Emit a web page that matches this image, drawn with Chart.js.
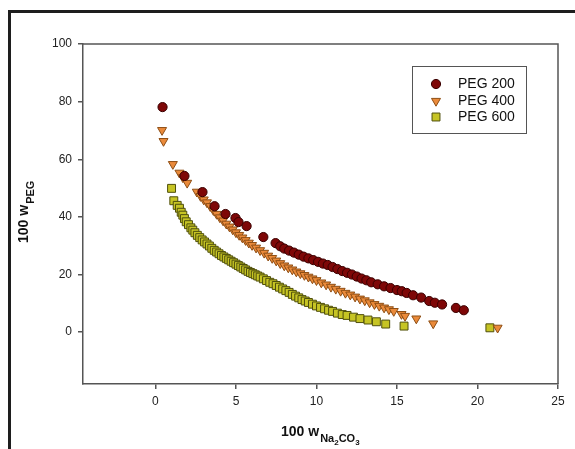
<!DOCTYPE html>
<html>
<head>
<meta charset="utf-8">
<script src="https://cdn.jsdelivr.net/npm/chart.js@4.4.1/dist/chart.umd.min.js"></script>
<style>
  html, body { margin: 0; padding: 0; background: #fff; }
  #wrap { width: 575px; height: 449px; }
</style>
</head>
<body>
<div id="wrap"><canvas id="scatterChart" width="575" height="449"></canvas></div>
<script>
// series labels
const seriesNames = ['PEG 200', 'PEG 400', 'PEG 600'];

// PEG 200 : 100 w(Na2CO3), 100 w(PEG)
const x200 = [0.44, 1.8, 2.92, 3.67, 4.35, 4.97, 5.16, 5.66, 6.7, 7.46,
  7.75, 8.0, 8.3, 8.6, 8.9, 9.2, 9.5, 9.8, 10.1, 10.4,
  10.7, 11.0, 11.3, 11.6, 11.9, 12.2, 12.5, 12.8, 13.1, 13.4,
  13.8, 14.2, 14.6, 15.0, 15.3, 15.6, 16.0, 16.5, 17.0, 17.35,
  17.8, 18.66, 19.15];
const y200 = [78.1, 54.2, 48.6, 43.7, 41.0, 39.6, 38.2, 36.8, 33.0, 30.9,
  29.8, 29.0, 28.3, 27.6, 26.9, 26.2, 25.6, 25.0, 24.4, 23.8,
  23.3, 22.6, 21.9, 21.2, 20.6, 20.0, 19.3, 18.6, 18.0, 17.3,
  16.6, 15.9, 15.3, 14.6, 14.2, 13.6, 12.8, 12.0, 10.8, 10.2,
  9.6, 8.4, 7.6];

// PEG 400
const x400 = [0.41, 0.5, 1.08, 1.49, 1.7, 1.97, 2.57,
  2.8, 3.0, 3.2, 3.4, 3.6, 3.8, 4.0, 4.2, 4.4, 4.6,
  4.8, 5.0, 5.2, 5.4, 5.6, 5.8, 6.0, 6.25, 6.5, 6.75,
  7.0, 7.25, 7.5, 7.75, 8.0, 8.25, 8.5, 8.75, 9.0, 9.25,
  9.5, 9.75, 10.0, 10.3, 10.6, 10.9, 11.2, 11.5, 11.8, 12.1,
  12.4, 12.7, 13.0, 13.3, 13.6, 13.9, 14.2, 14.5, 14.8,
  15.28, 15.5, 16.2, 17.25, 21.25];
const y400 = [70.1, 66.3, 58.3, 55.3, 53.7, 51.8, 48.7,
  47.2, 46.0, 45.0, 43.7, 42.3, 41.0, 39.8, 38.7, 37.6, 36.6,
  35.6, 34.6, 33.7, 32.8, 31.9, 31.0, 30.2, 29.3, 28.4, 27.5,
  26.5, 25.7, 24.8, 23.9, 23.1, 22.4, 21.7, 21.0, 20.4, 19.8,
  19.2, 18.6, 18.0, 17.2, 16.5, 15.7, 15.0, 14.3, 13.6, 13.0,
  12.3, 11.6, 11.0, 10.3, 9.7, 9.1, 8.5, 7.9, 7.3,
  6.25, 5.6, 4.7, 3.0, 1.5];

// PEG 600
const x600 = [1.0, 1.14, 1.35, 1.49, 1.6, 1.7, 1.8, 1.91, 2.05, 2.2, 2.32,
  2.45, 2.6, 2.75, 2.9, 3.05, 3.2, 3.35, 3.5, 3.65, 3.8,
  3.95, 4.1, 4.25, 4.4, 4.55, 4.7, 4.85, 5.0, 5.15, 5.3,
  5.45, 5.6, 5.75, 5.9, 6.05, 6.2, 6.35, 6.5, 6.7, 6.9,
  7.1, 7.3, 7.5, 7.7, 7.9, 8.1, 8.3, 8.5, 8.7, 8.9,
  9.1, 9.3, 9.5, 9.75, 10.0, 10.25, 10.5, 10.75, 11.0, 11.3,
  11.6, 11.9, 12.3, 12.7, 13.2, 13.72, 14.3, 15.44, 20.77];
const y600 = [49.9, 45.6, 44.0, 43.0, 41.6, 40.6, 39.4, 38.3, 37.3, 36.2, 35.4,
  34.5, 33.6, 32.8, 32.0, 31.3, 30.6, 29.9, 29.1, 28.4, 27.8,
  27.2, 26.6, 26.1, 25.6, 25.1, 24.6, 24.1, 23.6, 23.1, 22.6,
  22.1, 21.6, 21.1, 20.7, 20.3, 19.9, 19.5, 19.1, 18.5, 17.9,
  17.3, 16.8, 16.2, 15.6, 15.0, 14.4, 13.8, 13.1, 12.5, 11.9,
  11.3, 10.8, 10.3, 9.7, 9.1, 8.6, 8.1, 7.6, 7.2, 6.6,
  6.1, 5.8, 5.2, 4.7, 4.2, 3.6, 2.8, 2.1, 1.5];

// axis tick values
const xTicks = [0, 5, 10, 15, 20, 25];
const yTicks = [0, 20, 40, 60, 80, 100];

const toPoints = (xs, ys) => xs.map((v, i) => ({ x: v, y: ys[i] }));

const styles = [
  { pointStyle: 'circle', radius: 4.6, rotation: 0, bg: '#7e0707', border: '#3a0000' },
  { pointStyle: 'triangle', radius: 5.2, rotation: 180, bg: '#ea8a3a', border: '#8e4e14' },
  { pointStyle: 'rect', radius: 5.6, rotation: 0, bg: '#c6c424', border: '#4f4f0c' }
];

// 枠線・凡例・軸タイトル
const decorPlugin = {
  id: 'decor',
  beforeDraw(chart) {
    const ctx = chart.ctx;
    ctx.save();
    ctx.fillStyle = '#fff';
    ctx.fillRect(0, 0, chart.width, chart.height);
    ctx.strokeStyle = '#1e1e1e';
    ctx.lineWidth = 3;
    ctx.beginPath();
    ctx.moveTo(9.5, chart.height);
    ctx.lineTo(9.5, 11.5);
    ctx.lineTo(chart.width, 11.5);
    ctx.stroke();
    ctx.restore();
  },
  afterDraw(chart) {
    const ctx = chart.ctx;
    const a = chart.chartArea;
    ctx.save();
    // top / right of plot box
    ctx.strokeStyle = '#555';
    ctx.lineWidth = 1.5;
    ctx.beginPath();
    ctx.moveTo(a.left, a.top);
    ctx.lineTo(a.right, a.top);
    ctx.lineTo(a.right, a.bottom);
    ctx.stroke();

    // legend
    ctx.lineWidth = 1;
    ctx.strokeStyle = '#555';
    ctx.strokeRect(412.5, 66.5, 114, 67);
    ctx.font = '14px "Liberation Sans", Arial, sans-serif';
    ctx.fillStyle = '#111';
    ctx.textBaseline = 'middle';
    ctx.textAlign = 'left';
    const rows = [84, 101, 117];
    seriesNames.forEach((name, i) => {
      const s = styles[i];
      ctx.fillStyle = s.bg;
      ctx.strokeStyle = s.border;
      Chart.helpers.drawPoint(ctx, { pointStyle: s.pointStyle, radius: s.radius, rotation: s.rotation, borderWidth: 1 }, 436, rows[i]);
      ctx.fillStyle = '#111';
      ctx.fillText(name, 458, rows[i]);
    });

    // x title: 100 w Na2CO3
    ctx.fillStyle = '#111';
    ctx.textBaseline = 'alphabetic';
    let x = 281;
    ctx.font = 'bold 14px "Liberation Sans", Arial, sans-serif';
    ctx.fillText('100 w', x, 436);
    x += ctx.measureText('100 w').width + 1;
    const parts = [['Na', 11, 442], ['2', 8, 445], ['CO', 11, 442], ['3', 8, 445]];
    parts.forEach(p => {
      ctx.font = 'bold ' + p[1] + 'px "Liberation Sans", Arial, sans-serif';
      ctx.fillText(p[0], x, p[2]);
      x += ctx.measureText(p[0]).width;
    });

    // y title: 100 w PEG
    ctx.translate(28, 243);
    ctx.rotate(-Math.PI / 2);
    ctx.font = 'bold 14px "Liberation Sans", Arial, sans-serif';
    ctx.fillText('100 w', 0, 0);
    const w = ctx.measureText('100 w').width + 1;
    ctx.font = 'bold 11px "Liberation Sans", Arial, sans-serif';
    ctx.fillText('PEG', w, 6);
    ctx.restore();
  }
};

const ctxEl = document.getElementById('scatterChart');
const chart = new Chart(ctxEl, {
  type: 'scatter',
  data: {
    datasets: [0, 1, 2].map(i => ({
      label: seriesNames[i],
      data: toPoints([x200, x400, x600][i], [y200, y400, y600][i]),
      pointStyle: styles[i].pointStyle,
      pointRadius: styles[i].radius,
      pointHoverRadius: styles[i].radius,
      pointRotation: styles[i].rotation,
      backgroundColor: styles[i].bg,
      borderColor: styles[i].border,
      borderWidth: 1
    }))
  },
  options: {
    responsive: false,
    animation: false,
    layout: { padding: { top: 44, right: 17, left: 0, bottom: 0 } },
    plugins: { legend: { display: false }, tooltip: { enabled: false } },
    scales: {
      x: {
        type: 'linear',
        min: -4.5,
        max: 25,
        afterBuildTicks: s => { s.ticks = xTicks.map(v => ({ value: v })); },
        afterFit: s => { s.height = 65; },
        ticks: { color: '#222', padding: 5, font: { size: 12, family: '"Liberation Sans", Arial, sans-serif' } },
        grid: { drawOnChartArea: false, tickLength: 5, color: '#555', lineWidth: 1.5 },
        border: { color: '#555', width: 1.5 }
      },
      y: {
        type: 'linear',
        min: -18,
        max: 100,
        afterBuildTicks: s => { s.ticks = yTicks.map(v => ({ value: v })); },
        afterFit: s => { s.width = 83; },
        ticks: { color: '#222', padding: 6, font: { size: 12, family: '"Liberation Sans", Arial, sans-serif' } },
        grid: { drawOnChartArea: false, tickLength: 5, color: '#555', lineWidth: 1.5 },
        border: { color: '#555', width: 1.5 }
      }
    }
  },
  plugins: [decorPlugin]
});
</script>
</body>
</html>
